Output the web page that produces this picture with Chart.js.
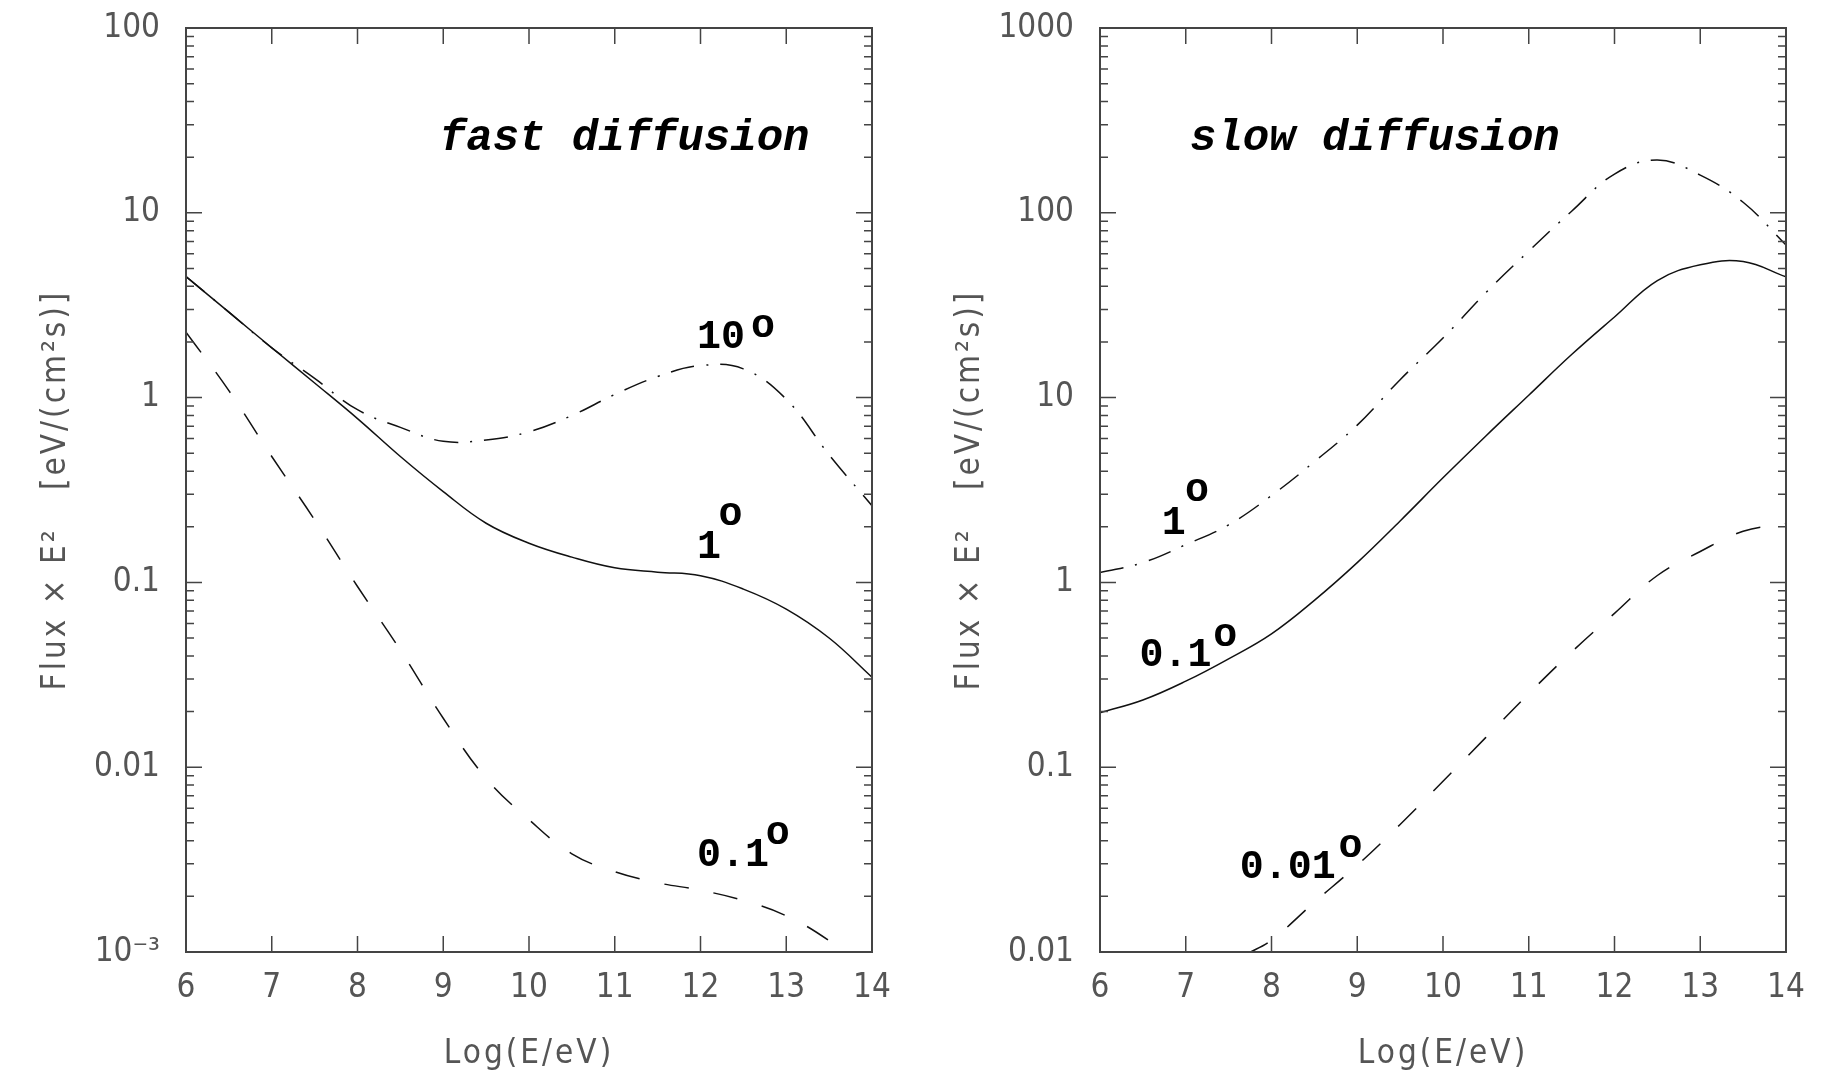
<!DOCTYPE html>
<html>
<head>
<title>Flux x E^2 - fast / slow diffusion</title>
<script src="https://cdn.jsdelivr.net/npm/chart.js"></script>
<style>
  body { margin: 0; background: #fff; }
  .panel { position: absolute; top: 0; width: 914px; height: 1079px; }
</style>
</head>
<body>
<div class="panel" style="left:0"><canvas id="fastChart" width="914" height="1079"></canvas></div>
<div class="panel" style="left:914px"><canvas id="slowChart" width="914" height="1079"></canvas></div>

<script>
// Log(E/eV) grid shared by most curves
var energy = [6, 6.5, 7, 7.5, 8, 8.5, 9, 9.5, 10, 10.5, 11, 11.5, 12, 12.5, 13, 13.5, 14];

// fast diffusion panel (source size 10, 1, 0.1 degrees)
var fast10deg = [4.52, 2.9, 1.86, 1.27, 0.86, 0.69, 0.58, 0.59, 0.653, 0.80, 1.04, 1.30, 1.49, 1.43, 0.98, 0.49, 0.26];
var fast1deg  = [4.52, 2.9, 1.86, 1.20, 0.77, 0.48, 0.31, 0.209, 0.163, 0.137, 0.120, 0.1136, 0.1087, 0.092, 0.0717, 0.050, 0.0307];
var fast01deg = [2.26, 1.09, 0.48, 0.218, 0.095, 0.043, 0.0184, 0.0087, 0.0052, 0.0034, 0.00272, 0.00237, 0.00216, 0.0019, 0.00157, 0.00115, 0.00075];

// slow diffusion panel (source size 1, 0.1, 0.01 degrees)
var slow1deg  = [1.13, 1.28, 1.6, 2.05, 2.95, 4.5, 7.1, 12.5, 21, 37, 62, 102, 162, 193, 160, 114, 67];
var slow01deg = [0.197, 0.231, 0.292, 0.386, 0.527, 0.80, 1.28, 2.15, 3.68, 6.2, 10.3, 17.1, 27.3, 43, 52.3, 54.5, 45];
var slowEnergy001 = [7.7, 8, 8.5, 9, 9.5, 10, 10.5, 11, 11.5, 12, 12.5, 13, 13.5, 14];
var slow001deg = [0.0097, 0.0116, 0.0186, 0.0295, 0.049, 0.084, 0.145, 0.25, 0.42, 0.68, 1.09, 1.47, 1.89, 2.08];

// tick labels
var xTicks = [6, 7, 8, 9, 10, 11, 12, 13, 14];
var fastYTicks = [0.001, 0.01, 0.1, 1, 10, 100];
var fastYLabels = ['10\u207B\u00B3', '0.01', '0.1', '1', '10', '100'];
var slowYTicks = [0.01, 0.1, 1, 10, 100, 1000];
var slowYLabels = ['0.01', '0.1', '1', '10', '100', '1000'];

// text placed on the plot, anchored in data units
var fastNotes = [
    {text: 'fast diffusion', x: 8.96, y: 21.9, title: true},
    {text: '10', x: 11.96, y: 1.855, sup: 'o', sx: 12.59, sy: 2.13},
    {text: '1', x: 11.96, y: 0.1355, sup: 'o', sx: 12.21, sy: 0.205},
    {text: '0.1', x: 11.96, y: 0.00292, sup: 'o', sx: 12.76, sy: 0.00384}
];
var slowNotes = [
    {text: 'slow diffusion', x: 7.05, y: 219, title: true},
    {text: '1', x: 6.72, y: 1.83, sup: 'o', sx: 6.99, sy: 2.76},
    {text: '0.1', x: 6.46, y: 0.353, sup: 'o', sx: 7.32, sy: 0.453},
    {text: '0.01', x: 7.63, y: 0.0252, sup: 'o', sx: 8.78, sy: 0.0327}
];

var axisFont = "'DejaVu Sans Condensed', 'DejaVu Sans', sans-serif";
var axisColor = '#555';

function pts(xs, ys) {
    return xs.map(function (e, i) { return {x: e, y: ys[i]}; });
}

function curve(data, dash) {
    return {
        data: data,
        borderColor: '#111',
        borderWidth: 1.5,
        borderDash: dash,
        pointRadius: 0,
        tension: 0.4,
        fill: false
    };
}

// frame, inward ticks and the text on the plot
var framePlugin = {
    id: 'frame',
    // axis titles are drawn in the grid layer (before datasets) with wide spacing
    beforeDraw: function (chart) { chart.ctx.letterSpacing = '3px'; },
    beforeDatasetsDraw: function (chart) { chart.ctx.letterSpacing = '0px'; },
    afterDatasetsDraw: function (chart) {
        var ctx = chart.ctx, a = chart.chartArea;
        var xs = chart.scales.x, ys = chart.scales.y;
        ctx.save();
        ctx.strokeStyle = '#444';
        ctx.lineWidth = 2;
        ctx.strokeRect(a.left, a.top, a.right - a.left, a.bottom - a.top);
        ctx.lineWidth = 1.5;
        ctx.beginPath();
        xTicks.forEach(function (v) {
            var px = xs.getPixelForValue(v);
            ctx.moveTo(px, a.bottom); ctx.lineTo(px, a.bottom - 16);
            ctx.moveTo(px, a.top); ctx.lineTo(px, a.top + 16);
        });
        var lo = Math.round(Math.log10(ys.min)), hi = Math.round(Math.log10(ys.max));
        for (var e = lo; e <= hi; e++) {
            for (var m = 1; m <= 9; m++) {
                var v = m * Math.pow(10, e);
                if (v > ys.max * 1.0001) break;
                var py = ys.getPixelForValue(v);
                var len = m === 1 ? 16 : 8;
                ctx.moveTo(a.left, py); ctx.lineTo(a.left + len, py);
                ctx.moveTo(a.right, py); ctx.lineTo(a.right - len, py);
            }
        }
        ctx.stroke();

        var notes = chart.options.plugins.frame.notes;
        ctx.fillStyle = '#000';
        ctx.textAlign = 'left';
        ctx.textBaseline = 'alphabetic';
        notes.forEach(function (n) {
            ctx.font = n.title ? "italic bold 44px 'Liberation Mono', monospace" : "bold 40px 'Liberation Mono', monospace";
            ctx.fillText(n.text, xs.getPixelForValue(n.x), ys.getPixelForValue(n.y));
            if (n.sup) {
                ctx.fillText(n.sup, xs.getPixelForValue(n.sx), ys.getPixelForValue(n.sy));
            }
        });
        ctx.restore();
    }
};

function makeChart(id, datasets, yMin, yMax, yTicks, yLabels, notes) {
    return new Chart(document.getElementById(id).getContext('2d'), {
        type: 'line',
        data: {datasets: datasets},
        plugins: [framePlugin],
        options: {
            responsive: false,
            animation: false,
            devicePixelRatio: 1,
            layout: {padding: {top: 28, right: 42, left: 0, bottom: 0}},
            plugins: {
                legend: {display: false},
                tooltip: {enabled: false},
                frame: {notes: notes}
            },
            scales: {
                x: {
                    type: 'linear',
                    min: 6,
                    max: 14,
                    afterBuildTicks: function (s) { s.ticks = xTicks.map(function (v) { return {value: v}; }); },
                    afterFit: function (s) { s.height = 127; s.paddingLeft = 0; s.paddingRight = 0; },
                    grid: {display: false, drawTicks: false},
                    border: {display: false},
                    ticks: {z: 1, padding: 17, color: axisColor, font: {family: axisFont, size: 33}, maxRotation: 0},
                    title: {
                        display: true,
                        text: 'Log(E/eV)',
                        color: axisColor,
                        font: {family: axisFont, size: 33},
                        padding: {top: 0, bottom: 5}
                    }
                },
                y: {
                    type: 'logarithmic',
                    min: yMin,
                    max: yMax,
                    afterBuildTicks: function (s) { s.ticks = yTicks.map(function (v) { return {value: v}; }); },
                    afterFit: function (s) { s.width = 186; s.paddingTop = 0; s.paddingBottom = 0; },
                    grid: {display: false, drawTicks: false},
                    border: {display: false},
                    ticks: {
                        z: 1,
                        padding: 26,
                        color: axisColor,
                        font: {family: axisFont, size: 33},
                        autoSkip: false,
                        callback: function (value) {
                            var i = yTicks.indexOf(value);
                            return i >= 0 ? yLabels[i] : '';
                        }
                    },
                    title: {
                        display: true,
                        text: 'Flux \u00D7 E\u00B2   [eV/(cm\u00B2s)]',
                        color: axisColor,
                        font: {family: axisFont, size: 33},
                        padding: {top: 37, bottom: 0}
                    }
                }
            }
        }
    });
}

var fastChart = makeChart('fastChart', [
    curve(pts(energy, fast1deg), []),
    curve(pts(energy, fast10deg), [24, 12, 2, 12]),
    curve(pts(energy, fast01deg), [25, 25])
], 0.001, 100, fastYTicks, fastYLabels, fastNotes);

var slowChart = makeChart('slowChart', [
    curve(pts(energy, slow01deg), []),
    curve(pts(energy, slow1deg), [24, 12, 2, 12]),
    curve(pts(slowEnergy001, slow001deg), [25, 25])
], 0.01, 1000, slowYTicks, slowYLabels, slowNotes);
</script>
</body>
</html>
